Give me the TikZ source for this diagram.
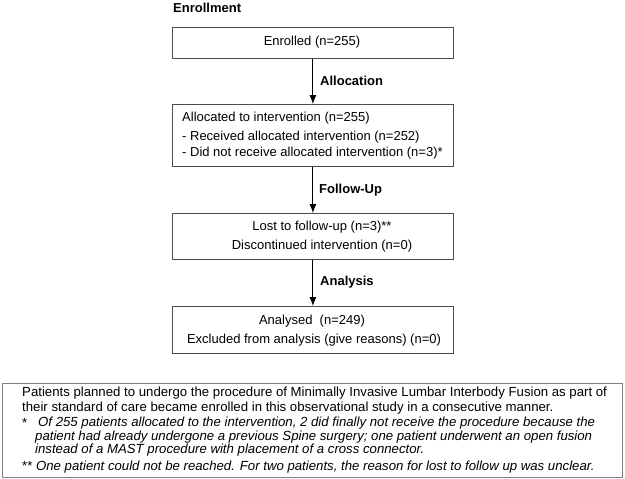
\documentclass[tikz,border=0pt]{standalone}
\usepackage{fontspec}
\setmainfont{Liberation Sans}
\usetikzlibrary{arrows.meta}
\begin{document}
\begin{tikzpicture}[x=1pt,y=-1pt,
 box/.style={draw=black!70, line width=0.8pt, fill=white, inner sep=0, anchor=north west},
 lbl/.style={font=\fontsize{13}{15}\selectfont\bfseries, anchor=west, inner sep=0},
 txt/.style={font=\fontsize{13}{15}\selectfont, inner sep=0},
 foot/.style={font=\fontsize{13.2}{15}\selectfont, anchor=west, inner sep=0},
 arr/.style={-{Latex[length=9pt,width=7pt]}, line width=0.9pt}]
\useasboundingbox (0,0) rectangle (625,479);
% boxes
\node[box, minimum width=281, minimum height=31] (b1) at (172,27) {};
\node[box, minimum width=281, minimum height=62] (b2) at (172,104) {};
\node[box, minimum width=281, minimum height=46] (b3) at (172,213) {};
\node[box, minimum width=281, minimum height=47] (b4) at (172,306) {};
\node[box, draw=black!50, minimum width=620, minimum height=94] (b5) at (2,383) {};
% arrows
\draw[arr] (b1.south) -- (b2.north);
\draw[arr] (b2.south) -- (b3.north);
\draw[arr] (b3.south) -- (b4.north);
% labels
\node[lbl] (lenr) at (173,8) {Enrollment};
\node[lbl] (lall) at (320,81) {Allocation};
\node[lbl] (lfol) at (319,190) {Follow-Up};
\node[lbl] (lana) at (320,282) {Analysis};
% box texts
\node[txt] (t1) at (312,42) {Enrolled (n=255)};
\node[txt, anchor=west] (t2a) at (182,118) {Allocated to intervention (n=255)};
\node[txt, anchor=west] (t2b) at (182,137) {- Received allocated intervention (n=252)};
\node[txt, anchor=west] (t2c) at (182,153) {- Did not receive allocated intervention (n=3)*};
\node[txt] (t3a) at (322,227) {Lost to follow-up (n=3)**};
\node[txt] (t3b) at (322,246) {Discontinued intervention (n=0)};
\node[txt] (t4a) at (312,321) {Analysed\ \ (n=249)};
\node[txt] (t4b) at (314,340) {Excluded from analysis (give reasons) (n=0)};
% footnote
\node[foot] (f1) at (22,393) {Patients planned to undergo the procedure of Minimally Invasive Lumbar Interbody Fusion as part of};
\node[foot] (f2) at (22,408) {their standard of care became enrolled in this observational study in a consecutive manner.};
\node[foot] (f3s) at (22,423) {*};
\node[foot] (f3) at (38,423) {\itshape Of 255 patients allocated to the intervention, 2 did finally not receive the procedure because the};
\node[foot] (f4) at (35,437) {\itshape patient had already undergone a previous Spine surgery; one patient underwent an open fusion};
\node[foot] (f5) at (35,450) {\itshape instead of a MAST procedure with placement of a cross connector.};
\node[foot] (f6) at (22,467) {** \itshape One patient could not be reached. For two patients, the reason for lost to follow up was unclear.};
\end{tikzpicture}
\end{document}
